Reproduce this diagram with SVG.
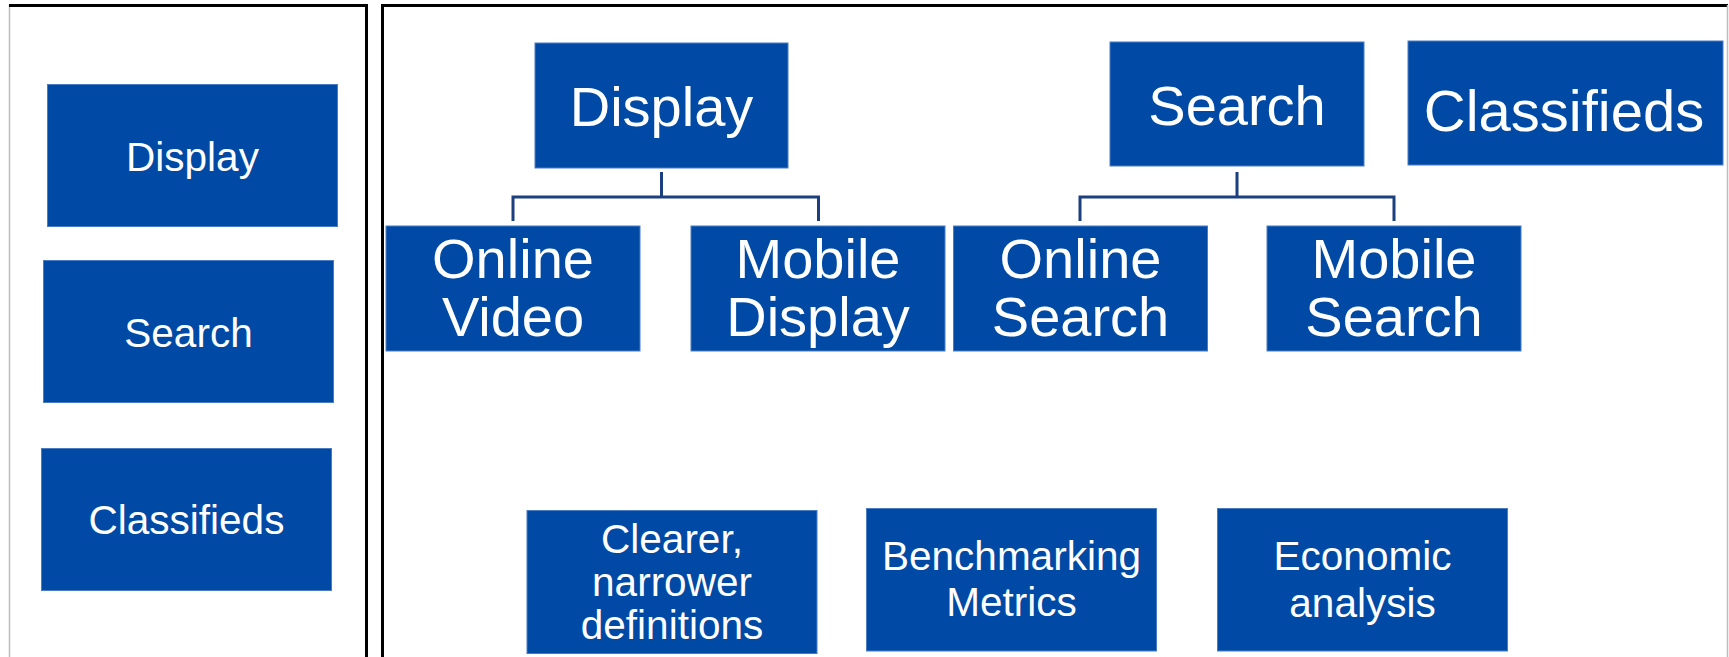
<svg xmlns="http://www.w3.org/2000/svg" width="1729" height="657" viewBox="0 0 1729 657">
  <defs>
    <style>
      .box { fill: #004AA5; stroke: #4a7cc4; stroke-width: 1; }
      .t { fill: #ffffff; font-family: "Liberation Sans", Arial, sans-serif; text-anchor: middle; }
      .s40 { font-size: 40.5px; }
      .s56 { font-size: 56px; }
      .s58 { font-size: 58px; }
      .conn { fill: none; stroke: #1c3f7f; stroke-width: 3; }
      .frame { stroke: #000000; stroke-width: 3; fill: none; }
      .edge { stroke: #bdbdbd; stroke-width: 1.5; fill: none; }
    </style>
  </defs>
  <rect width="1729" height="657" fill="#ffffff"/>

  <g id="left-panel">
    <line class="edge" x1="9.5" y1="5" x2="9.5" y2="657"/>
    <line class="frame" x1="9" y1="5.5" x2="368" y2="5.5"/>
    <line class="frame" x1="366.5" y1="4" x2="366.5" y2="657"/>
  </g>
  <g id="right-panel">
    <line class="frame" x1="382.5" y1="4" x2="382.5" y2="657"/>
    <line class="frame" x1="381" y1="5.5" x2="1728" y2="5.5"/>
    <line class="edge" x1="1727.5" y1="5" x2="1727.5" y2="657"/>
  </g>

  <g id="connectors">
    <path class="conn" d="M661.5,172 V197 M513,221 V197 H818.5 V221"/>
    <path class="conn" d="M1237,172 V197 M1080,221 V197 H1394 V221"/>
  </g>

  <g id="left-display">
    <rect class="box" x="47.5" y="84.5" width="290" height="142"/>
    <text class="t s40" x="192.5" y="170.5">Display</text>
  </g>
  <g id="left-search">
    <rect class="box" x="43.5" y="260.5" width="290" height="142"/>
    <text class="t s40" x="188.5" y="346.5">Search</text>
  </g>
  <g id="left-classifieds">
    <rect class="box" x="41.5" y="448.5" width="290" height="142"/>
    <text class="t s40" x="186.5" y="534">Classifieds</text>
  </g>

  <g id="display">
    <rect class="box" x="535" y="43" width="253" height="125"/>
    <text class="t s56" x="661.5" y="126">Display</text>
  </g>
  <g id="search">
    <rect class="box" x="1110" y="42" width="254" height="124"/>
    <text class="t s56" x="1237" y="125">Search</text>
  </g>
  <g id="classifieds">
    <rect class="box" x="1408" y="41" width="315" height="124"/>
    <text class="t s58" x="1564" y="130.5">Classifieds</text>
  </g>

  <g id="online-video">
    <rect class="box" x="386" y="226" width="254" height="125"/>
    <text class="t s56" x="513" y="278">Online</text>
    <text class="t s56" x="513" y="336">Video</text>
  </g>
  <g id="mobile-display">
    <rect class="box" x="691" y="226" width="254" height="125"/>
    <text class="t s56" x="818" y="278">Mobile</text>
    <text class="t s56" x="818" y="336">Display</text>
  </g>
  <g id="online-search">
    <rect class="box" x="953.5" y="226" width="254" height="125"/>
    <text class="t s56" x="1080.5" y="278">Online</text>
    <text class="t s56" x="1080.5" y="336">Search</text>
  </g>
  <g id="mobile-search">
    <rect class="box" x="1267" y="226" width="254" height="125"/>
    <text class="t s56" x="1394" y="278">Mobile</text>
    <text class="t s56" x="1394" y="336">Search</text>
  </g>

  <g id="clearer">
    <rect class="box" x="527" y="510.5" width="290" height="143"/>
    <text class="t s40" x="672" y="552.5">Clearer,</text>
    <text class="t s40" x="672" y="596">narrower</text>
    <text class="t s40" x="672" y="638.5">definitions</text>
  </g>
  <g id="benchmarking">
    <rect class="box" x="866.5" y="508.5" width="290" height="142.5"/>
    <text class="t s40" x="1011.5" y="570">Benchmarking</text>
    <text class="t s40" x="1011.5" y="616">Metrics</text>
  </g>
  <g id="economic">
    <rect class="box" x="1217.5" y="508.5" width="290" height="142.5"/>
    <text class="t s40" x="1362.5" y="570">Economic</text>
    <text class="t s40" x="1362.5" y="616.5">analysis</text>
  </g>
</svg>
